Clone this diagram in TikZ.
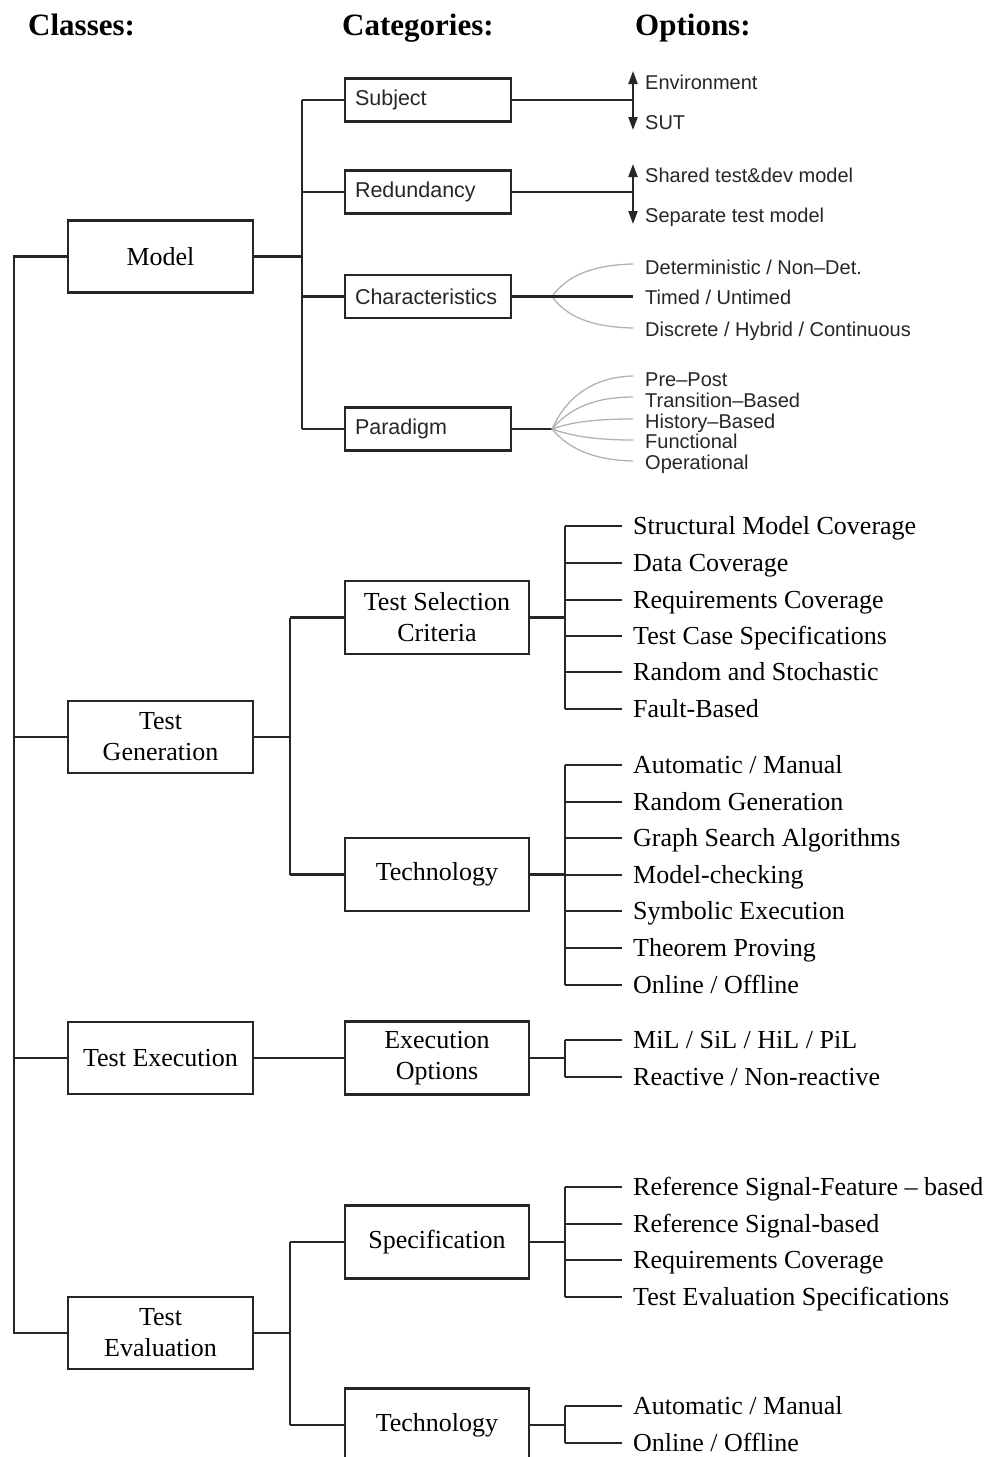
\documentclass[tikz,border=0pt]{standalone}
\usepackage{fontspec}
\setmainfont{Liberation Serif}
\newfontfamily\sansfnt{Liberation Sans}
\usetikzlibrary{arrows.meta}
\begin{document}
\begin{tikzpicture}[x=1pt,y=-1pt,
  ln/.style={line width=2.1pt,draw=black!85},
  gln/.style={line width=1.3pt,draw=black!30},
  tipA/.tip={Triangle[length=13pt,width=9pt]},
  hdr/.style={anchor=base west,inner sep=0pt,font=\fontsize{31}{31}\selectfont\bfseries},
  classbox/.style={draw=black!85,line width=2.1pt,minimum width=185pt,minimum height=72pt,inner sep=0pt,align=center,font=\fontsize{26}{31}\selectfont},
  catbox/.style={draw=black!85,line width=2.1pt,minimum width=184pt,minimum height=73pt,inner sep=0pt,align=center,font=\fontsize{26}{31}\selectfont},
  sbox/.style={draw=black!85,line width=2.1pt,minimum width=166pt,minimum height=43pt,inner xsep=10pt,inner ysep=0pt,text width=146pt,align=left,font=\sansfnt\fontsize{21.5}{24}\selectfont,text=black!85},
  opt/.style={anchor=west,inner xsep=11pt,inner ysep=0pt,text height=20pt,text depth=3pt,font=\fontsize{26}{30}\selectfont},
  sopt/.style={anchor=west,inner xsep=12pt,inner ysep=0pt,text height=14.5pt,text depth=0.2pt,font=\sansfnt\fontsize{20}{22}\selectfont,text=black!85}]
\useasboundingbox (0,0) rectangle (985,1457);

% headers
\node[hdr] (hcls) at (28,35) {Classes:};
\node[hdr] (hcat) at (342,35) {Categories:};
\node[hdr] (hopt) at (635,35) {Options:};

% classes
\node[classbox] (model) at (160.5,256.5) {Model};
\node[classbox] (tgen) at (160.5,737) {Test\\Generation};
\node[classbox] (texe) at (160.5,1058) {Test Execution};
\node[classbox] (teva) at (160.5,1333) {Test\\Evaluation};

\coordinate (spine) at (14,256.5);
\coordinate (spineend) at (14,1333);
\draw[ln] (model.west) -- (spine) -- (spineend) -- (teva.west);
\draw[ln] (spine |- tgen.west) -- (tgen.west);
\draw[ln] (spine |- texe.west) -- (texe.west);

% ---------------- Model section ----------------
\node[sbox] (subj) at (428,100) {Subject};
\node[sbox] (redu) at (428,192) {Redundancy};
\node[sbox] (char) at (428,296.5) {Characteristics};
\node[sbox] (para) at (428,429) {Paradigm};

\coordinate (mbus) at (302,256.5);
\draw[ln] (model.east) -- (mbus);
\draw[ln] (mbus |- subj.west) -- (mbus |- para.west);
\foreach \b in {subj,redu,char,para} \draw[ln] (mbus |- \b.west) -- (\b.west);

% Subject
\coordinate (subjA) at (633,100);
\coordinate (subjT) at (633,71);
\coordinate (subjB) at (633,130);
\draw[ln] (subj.east) -- (subjA);
\draw[ln,tipA-tipA] (subjT) -- (subjB);
\node[sopt] (envi) at (633,82) {Environment};
\node[sopt] (sut) at (633,122) {SUT};

% Redundancy
\coordinate (reduA) at (633,192);
\coordinate (reduT) at (633,164);
\coordinate (reduB) at (633,224);
\draw[ln] (redu.east) -- (reduA);
\draw[ln,tipA-tipA] (reduT) -- (reduB);
\node[sopt] (shar) at (633,175) {Shared test\&dev model};
\node[sopt] (sepa) at (633,215) {Separate test model};

% Characteristics
\node[sopt] (det) at (633,267) {Deterministic / Non\textendash Det.};
\node[sopt] (tim) at (633,297) {Timed / Untimed};
\node[sopt] (dis) at (633,329) {Discrete / Hybrid / Continuous};
\coordinate (charO) at (552,296.5);
\draw[gln] (charO) .. controls (566,277) and (590,265) .. (633,264);
\draw[gln] (charO) .. controls (566,316) and (590,327) .. (633,328);
\draw[ln] (char.east) -- (charO) -- (charO -| tim.west);

% Paradigm
\node[sopt] (pre) at (633,379) {Pre\textendash Post};
\node[sopt] (tra) at (633,400.5) {Transition\textendash Based};
\node[sopt] (his) at (633,421.5) {History\textendash Based};
\node[sopt] (fun) at (633,441.5) {Functional};
\node[sopt] (ope) at (633,462) {Operational};
\coordinate (paraO) at (552,429);
\draw[ln] (para.east) -- (paraO);
\draw[gln] (paraO) .. controls (565,400) and (590,377) .. (633,376);
\draw[gln] (paraO) .. controls (568,410) and (592,397) .. (633,397);
\draw[gln] (paraO) .. controls (572,422) and (595,419) .. (633,419);
\draw[gln] (paraO) .. controls (572,436) and (595,440) .. (633,440);
\draw[gln] (paraO) .. controls (568,448) and (592,460) .. (633,461);

% ---------------- Test Generation ----------------
\node[catbox] (tsc) at (437,617.5) {Test Selection\\Criteria};
\node[catbox] (tech) at (437,874.5) {Technology};
\coordinate (gbus) at (290,737);
\draw[ln] (tgen.east) -- (gbus);
\draw[ln] (gbus |- tsc.west) -- (gbus |- tech.west);
\draw[ln] (gbus |- tsc.west) -- (tsc.west);
\draw[ln] (gbus |- tech.west) -- (tech.west);

\node[opt] (o1) at (622,526) {Structural Model Coverage};
\node[opt] (o2) at (622,563) {Data Coverage};
\node[opt] (o3) at (622,600) {Requirements Coverage};
\node[opt] (o4) at (622,636) {Test Case Specifications};
\node[opt] (o5) at (622,672) {Random and Stochastic};
\node[opt] (o6) at (622,709) {Fault-Based};
\coordinate (tscbus) at (565,617.5);
\draw[ln] (tsc.east) -- (tscbus);
\draw[ln] (tscbus |- o1.west) -- (tscbus |- o6.west);
\foreach \n in {o1,o2,o3,o4,o5,o6} \draw[ln] (tscbus |- \n.west) -- (\n.west);

\node[opt] (t1) at (622,765) {Automatic / Manual};
\node[opt] (t2) at (622,802) {Random Generation};
\node[opt] (t3) at (622,838) {Graph Search Algorithms};
\node[opt] (t4) at (622,875) {Model-checking};
\node[opt] (t5) at (622,911) {Symbolic Execution};
\node[opt] (t6) at (622,948) {Theorem Proving};
\node[opt] (t7) at (622,985) {Online / Offline};
\coordinate (techbus) at (565,874.5);
\draw[ln] (tech.east) -- (techbus);
\draw[ln] (techbus |- t1.west) -- (techbus |- t7.west);
\foreach \n in {t1,t2,t3,t4,t5,t6,t7} \draw[ln] (techbus |- \n.west) -- (\n.west);

% ---------------- Test Execution ----------------
\node[catbox] (exop) at (437,1058) {Execution\\Options};
\draw[ln] (texe.east) -- (exop.west);
\node[opt] (e1) at (622,1040) {MiL / SiL / HiL / PiL};
\node[opt] (e2) at (622,1077) {Reactive / Non-reactive};
\coordinate (exbus) at (565,1058);
\draw[ln] (exop.east) -- (exbus);
\draw[ln] (exbus |- e1.west) -- (exbus |- e2.west);
\foreach \n in {e1,e2} \draw[ln] (exbus |- \n.west) -- (\n.west);

% ---------------- Test Evaluation ----------------
\node[catbox] (spec) at (437,1242) {Specification};
\node[catbox] (tech2) at (437,1425) {Technology};
\coordinate (vbus) at (290,1333);
\draw[ln] (teva.east) -- (vbus);
\draw[ln] (vbus |- spec.west) -- (vbus |- tech2.west);
\draw[ln] (vbus |- spec.west) -- (spec.west);
\draw[ln] (vbus |- tech2.west) -- (tech2.west);

\node[opt] (s1) at (622,1187) {Reference Signal-Feature -- based};
\node[opt] (s2) at (622,1224) {Reference Signal-based};
\node[opt] (s3) at (622,1260) {Requirements Coverage};
\node[opt] (s4) at (622,1297) {Test Evaluation Specifications};
\coordinate (specbus) at (565,1242);
\draw[ln] (spec.east) -- (specbus);
\draw[ln] (specbus |- s1.west) -- (specbus |- s4.west);
\foreach \n in {s1,s2,s3,s4} \draw[ln] (specbus |- \n.west) -- (\n.west);

\node[opt] (u1) at (622,1406) {Automatic / Manual};
\node[opt] (u2) at (622,1443) {Online / Offline};
\coordinate (t2bus) at (565,1425);
\draw[ln] (tech2.east) -- (t2bus);
\draw[ln] (t2bus |- u1.west) -- (t2bus |- u2.west);
\foreach \n in {u1,u2} \draw[ln] (t2bus |- \n.west) -- (\n.west);
\end{tikzpicture}
\end{document}
